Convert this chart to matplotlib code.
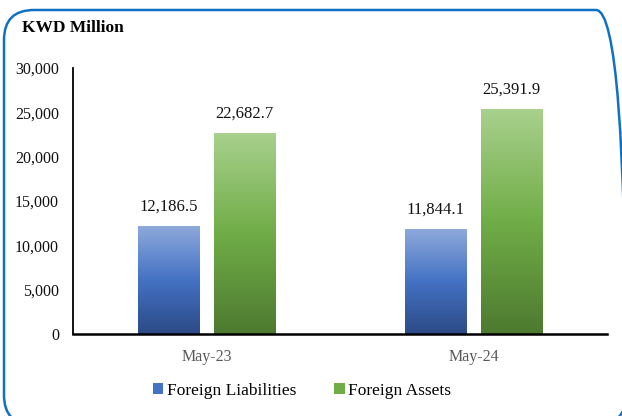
import matplotlib
matplotlib.use("Agg")
import matplotlib.pyplot as plt
import numpy as np
from matplotlib.colors import LinearSegmentedColormap
from matplotlib.patches import FancyBboxPatch, Patch
from matplotlib.transforms import IdentityTransform

# ---- data
categories = ["May-23", "May-24"]
liabilities = [12186.5, 11844.1]
assets = [22682.7, 25391.9]
series_names = ["Foreign Liabilities", "Foreign Assets"]
yticks = [0, 5000, 10000, 15000, 20000, 25000, 30000]

plt.rcParams["font.family"] = ["Liberation Serif", "DejaVu Serif"]

blue_cmap = LinearSegmentedColormap.from_list(
    "blue", ["#2c4a86", "#4472c4", "#8faadc"])
green_cmap = LinearSegmentedColormap.from_list(
    "green", ["#4d7a2f", "#70ad47", "#a9d18e"])

fig = plt.figure(figsize=(6.22, 4.16), dpi=100)
W, H = 622, 416
ax = fig.add_axes([73 / W, 1 - 334 / H, (607 - 73) / W, (334 - 68) / H])

x = np.arange(len(categories))
bw = 0.23
off = 0.143


def gradient_bars(xs, vals, cmap):
    bars = ax.bar(xs, vals, width=bw, color="none", edgecolor="none", zorder=2)
    grad = np.linspace(0, 1, 256).reshape(-1, 1)
    for b in bars:
        x0, y0 = b.get_x(), b.get_y()
        im = ax.imshow(grad, cmap=cmap, origin="lower", aspect="auto",
                       extent=[x0, x0 + b.get_width(), y0, y0 + b.get_height()],
                       zorder=2)
        im.set_clip_path(b)
    for b, v in zip(bars, vals):
        ax.annotate(f"{v:,.1f}", (b.get_x() + b.get_width() / 2, v),
                    xytext=(0, 8), textcoords="offset points",
                    ha="center", va="bottom", fontsize=12, color="#111111")
    return bars


gradient_bars(x - off, liabilities, blue_cmap)
gradient_bars(x + off, assets, green_cmap)

ax.set_xlim(-0.5, 1.5)
ax.set_ylim(0, 30000)
ax.set_yticks(yticks)
ax.set_yticklabels([f"{t:,}" for t in yticks], fontsize=11.5, color="#111111")
ax.set_xticks(x)
ax.set_xticklabels(categories, fontsize=11.5, color="#595959")
ax.tick_params(axis="both", length=0, pad=10)
ax.tick_params(axis="x", pad=11)
for s in ["top", "right"]:
    ax.spines[s].set_visible(False)
ax.spines["left"].set_linewidth(1.3)
ax.spines["bottom"].set_linewidth(1.8)

fig.text(22 / W, 1 - 28 / H, "KWD Million", fontsize=12.5, fontweight="bold",
         va="center", ha="left")

handles = [Patch(facecolor="#4472c4"), Patch(facecolor="#70ad47")]
fig.legend(handles, series_names, loc="center", bbox_to_anchor=(302 / W, 1 - 391 / H),
           ncol=2, frameon=False, fontsize=12.5, handlelength=0.6,
           handleheight=0.6, handletextpad=0.2, columnspacing=2.2)

# rounded border (pixel coords), running off the right and bottom edges
border = FancyBboxPatch((4, -9), 626 - 4, 406 + 9,
                        boxstyle="round,pad=0,rounding_size=30",
                        transform=IdentityTransform(), facecolor="none",
                        edgecolor="#0f70c4", linewidth=1.8, clip_on=False)
fig.patches.append(border)

fig.savefig("out.png", dpi=100)
